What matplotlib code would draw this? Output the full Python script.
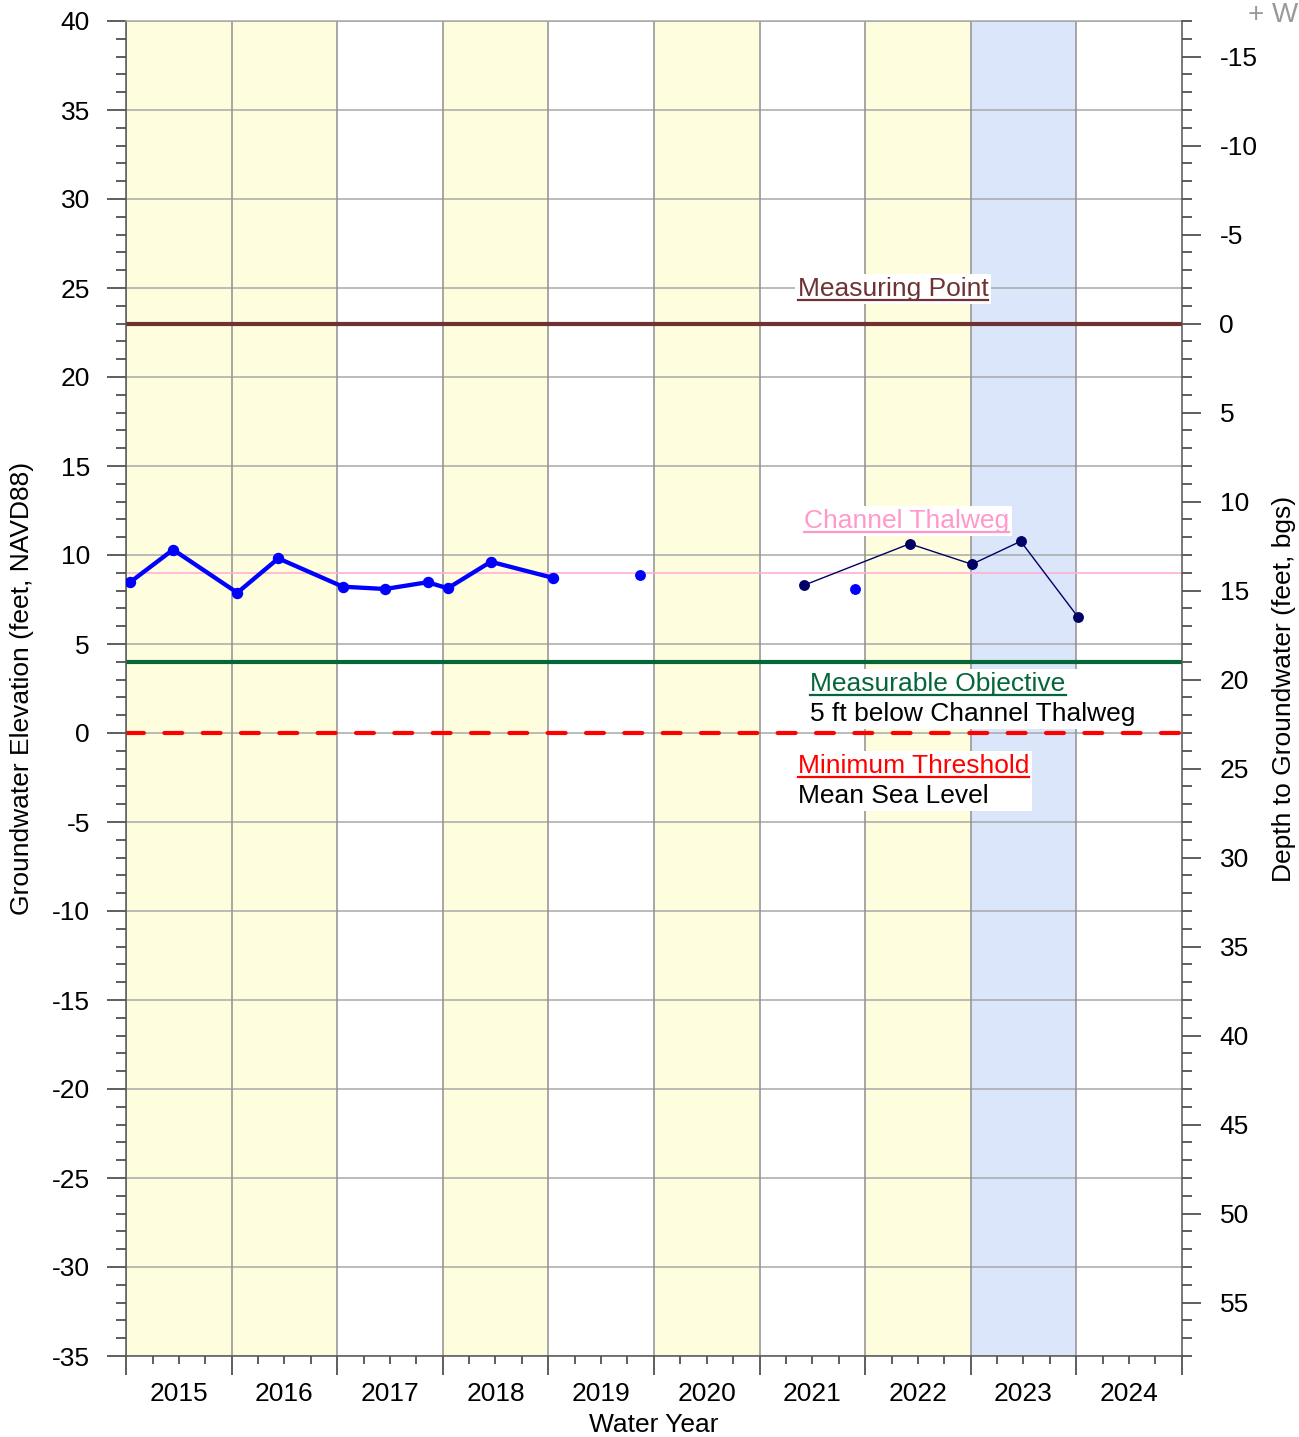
import matplotlib
matplotlib.use("Agg")
import matplotlib.pyplot as plt
import matplotlib.dates as mdates
from matplotlib.ticker import MultipleLocator, NullFormatter, FixedLocator
from matplotlib.lines import Line2D
from matplotlib.patches import Rectangle
import datetime as dt

plt.rcParams['font.family'] = ['Liberation Sans', 'DejaVu Sans']
plt.rcParams['axes.unicode_minus'] = False

# ---- data ----
water_years = list(range(2015, 2025))
yellow_years = [2015, 2016, 2018, 2020, 2022]
blue_years = [2023]

series1_dates = ['2014-10-15', '2015-03-13', '2015-10-21', '2016-03-11', '2016-10-20',
                 '2017-03-15', '2017-08-09', '2017-10-18', '2018-03-16', '2018-10-16']
series1_elev = [8.47, 10.30, 7.88, 9.81, 8.22, 8.09, 8.47, 8.13, 9.62, 8.72]

isolated_dates = ['2019-08-15', '2021-08-26']
isolated_elev = [8.89, 8.11]

series2_dates = ['2021-03-03', '2022-03-04', '2022-10-05', '2023-03-23', '2023-10-07']
series2_elev = [8.30, 10.63, 9.48, 10.77, 6.52]

measuring_point = 23.0
channel_thalweg = 9.0
measurable_objective = 4.0
minimum_threshold = 0.0
y_min, y_max = -35, 40

FS = 19

to_dt = lambda s: dt.datetime.strptime(s, '%Y-%m-%d')

fig = plt.figure(figsize=(12.99, 14.37), dpi=100)
ax = fig.add_axes([126/1299, 1-1356/1437, (1182-126)/1299, (1356-21)/1437])

x0 = dt.datetime(water_years[0]-1, 10, 1)
x1 = dt.datetime(water_years[-1], 10, 1)

for wy in yellow_years:
    ax.axvspan(dt.datetime(wy-1, 10, 1), dt.datetime(wy, 10, 1), color='#FEFEDE', zorder=0, lw=0)
for wy in blue_years:
    ax.axvspan(dt.datetime(wy-1, 10, 1), dt.datetime(wy, 10, 1), color='#DCE6FA', zorder=0, lw=0)

# grid
for yv in range(y_min, y_max+1, 5):
    ax.axhline(yv, color='#A8A8A8', lw=1.1, zorder=0.5)
for wy in water_years:
    ax.axvline(dt.datetime(wy-1, 10, 1), color='#909090', lw=1.1, zorder=0.5)

# reference lines
ax.axhline(channel_thalweg, color='#FFB0D8', lw=1.2, zorder=1)
ax.axhline(measuring_point, color='#6E3232', lw=3, zorder=2)
ax.axhline(measurable_objective, color='#05663A', lw=3, zorder=2)
ax.axhline(minimum_threshold, color='#FF0000', lw=3, zorder=2, dashes=(4.3, 4.9),
           dash_capstyle='round')

# data
ax.plot([to_dt(d) for d in series1_dates], series1_elev, color='#0000FF', lw=3.1,
        marker='o', ms=7.2, zorder=5, solid_joinstyle='round')
ax.plot([to_dt(d) for d in isolated_dates], isolated_elev, color='#0000FF', lw=0,
        marker='o', ms=6.8, zorder=5)
ax.plot([to_dt(d) for d in series2_dates], series2_elev, color='#000066', lw=1,
        marker='o', ms=6.8, zorder=5)

ax.set_xlim(x0, x1)
ax.set_ylim(y_min, y_max)

# x ticks
major_x = [dt.datetime(wy-1, 10, 1) for wy in water_years] + [x1]
minor_x = []
minor_lbl = []
for wy in water_years:
    for m in (1, 4, 7):
        minor_x.append(dt.datetime(wy, m, 1))
        minor_lbl.append(str(wy) if m == 4 else '')
ax.xaxis.set_major_locator(FixedLocator(mdates.date2num(major_x)))
ax.xaxis.set_major_formatter(NullFormatter())
ax.xaxis.set_minor_locator(FixedLocator(mdates.date2num(minor_x)))
ax.set_xticklabels(minor_lbl, minor=True)
ax.tick_params(axis='x', which='major', direction='out', length=14, width=1.1, color='#333333')
ax.tick_params(axis='x', which='minor', direction='out', length=6, width=1.1, color='#333333',
               labelsize=FS, pad=13)

# y ticks
ax.yaxis.set_major_locator(MultipleLocator(5))
ax.yaxis.set_minor_locator(MultipleLocator(1))
ax.tick_params(axis='y', which='major', direction='out', length=14, width=1.1, color='#333333',
               labelsize=FS, pad=12)
ax.tick_params(axis='y', which='minor', direction='out', length=7, width=1.1, color='#333333')

for sp in ['left', 'bottom']:
    ax.spines[sp].set_color('#555555')
    ax.spines[sp].set_linewidth(1.1)
ax.spines['top'].set_color('#A8A8A8')
ax.spines['top'].set_linewidth(1.1)
ax.spines['right'].set_visible(False)

ax.set_ylabel('Groundwater Elevation (feet, NAVD88)', fontsize=FS, va='center')
ax.yaxis.set_label_coords(-0.0985, 0.5)
ax.set_xlabel('Water Year', fontsize=FS, labelpad=5)

# right axis: depth
ax2 = ax.twinx()
ax2.set_ylim(measuring_point - y_min, measuring_point - y_max)
ax2.yaxis.set_major_locator(MultipleLocator(5))
ax2.yaxis.set_minor_locator(MultipleLocator(1))
ax2.tick_params(axis='y', which='major', direction='out', length=14, width=1.1, color='#333333',
                labelsize=FS, pad=13)
ax2.tick_params(axis='y', which='minor', direction='out', length=7, width=1.1, color='#333333')
for sp in ['left', 'bottom', 'top']:
    ax2.spines[sp].set_visible(False)
ax2.spines['right'].set_color('#555555')
ax2.spines['right'].set_linewidth(1.1)
ax2.set_ylabel('Depth to Groundwater (feet, bgs)', fontsize=FS, rotation=90, va='center')
ax2.yaxis.set_label_coords(1.0966, 0.5)

# annotations
yt = ax.get_yaxis_transform()
groups = []
t1 = ax.text(0.636, 24.95, 'Measuring Point', color='#6E3232', fontsize=FS, va='center', ha='left',
             transform=yt, zorder=6)
groups.append(([t1], [(t1, '#6E3232')]))
t2 = ax.text(0.642, 11.9, 'Channel Thalweg', color='#FF99CC', fontsize=FS, va='center', ha='left',
             transform=yt, zorder=6)
groups.append(([t2], [(t2, '#FF99CC')]))
t3 = ax.text(0.648, 2.75, 'Measurable Objective', color='#05663A', fontsize=FS, va='center', ha='left',
             transform=yt, zorder=6)
t4 = ax.text(0.648, 1.05, '5 ft below Channel Thalweg', color='black', fontsize=FS, va='center', ha='left',
             transform=yt, zorder=6)
groups.append(([t3, t4], [(t3, '#05663A')]))
t5 = ax.text(0.636, -1.85, 'Minimum Threshold', color='#FF0000', fontsize=FS, va='center', ha='left',
             transform=yt, zorder=6)
t6 = ax.text(0.636, -3.55, 'Mean Sea Level', color='black', fontsize=FS, va='center', ha='left',
             transform=yt, zorder=6)
groups.append(([t5, t6], [(t5, '#FF0000')]))

fig.text(1248/1299, 1-15/1437, '+ W', color='#999999', fontsize=20, va='center', ha='left')

# white boxes and underlines
fig.canvas.draw()
r = fig.canvas.get_renderer()
inv = ax.transAxes.inverted()
pad = 3
for texts, ulines in groups:
    exts = [t.get_window_extent(r) for t in texts]
    bx0 = min(e.x0 for e in exts) - pad
    bx1 = max(e.x1 for e in exts) + pad
    by0 = min(e.y0 for e in exts) - pad
    by1 = max(e.y1 for e in exts) + pad
    (ax0, ay0) = inv.transform((bx0, by0))
    (ax1, ay1) = inv.transform((bx1, by1))
    ax.add_patch(Rectangle((ax0, ay0), ax1-ax0, ay1-ay0, transform=ax.transAxes,
                           facecolor='white', edgecolor='none', zorder=5.5))
    for t, c in ulines:
        e = t.get_window_extent(r)
        (xa, ya) = inv.transform((e.x0, e.y0 + 1))
        (xb, _) = inv.transform((e.x1, e.y0 + 1))
        ax.add_line(Line2D([xa, xb], [ya, ya], color=c, lw=1.6, zorder=7, transform=ax.transAxes))

fig.savefig('out.png', dpi=100)
